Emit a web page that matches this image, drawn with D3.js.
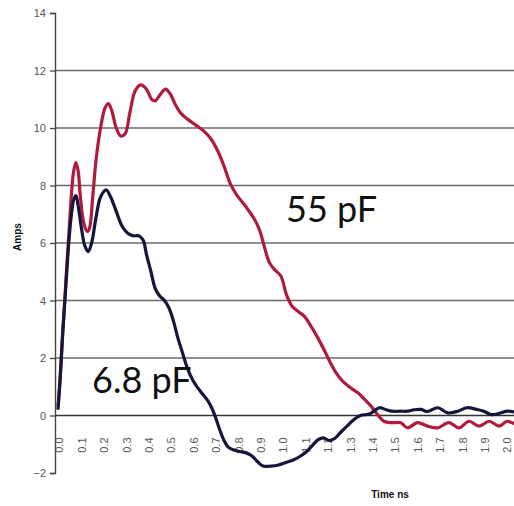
<!DOCTYPE html>
<html>
<head>
<meta charset="utf-8">
<script src="https://cdn.jsdelivr.net/npm/d3@7"></script>
<style>
  html, body { margin: 0; padding: 0; background: #fff; }
  svg { display: block; }
</style>
</head>
<body>
<svg id="chart" width="514" height="506"></svg>
<script>
// Discharge current through the probe, in amps, against time in ns
const yTicks = [-2, 0, 2, 4, 6, 8, 10, 12, 14];
const gridValues = [0, 2, 4, 6, 8, 10, 12];
const xTickLabels = ["0.0","0.1","0.2","0.3","0.4","0.5","0.6","0.7","0.8","0.9","1.0",
                     "1.1","1.2","1.3","1.4","1.5","1.6","1.7","1.8","1.9","2.0"];

// 55 pF discharge
const time55 = [0.000,0.010,0.020,0.030,0.040,0.050,0.060,0.070,0.080,0.090,0.100,0.115,0.130,0.140,
  0.155,0.170,0.190,0.210,0.225,0.240,0.260,0.280,0.300,0.320,0.345,0.370,0.395,0.420,0.435,0.455,
  0.480,0.500,0.525,0.550,0.580,0.615,0.650,0.680,0.710,0.740,0.770,0.800,0.840,0.875,0.900,0.920,
  0.945,0.970,0.995,1.020,1.045,1.075,1.100,1.130,1.160,1.190,1.215,1.240,1.270,1.300,1.340,1.370,
  1.400,1.430,1.455,1.490,1.530,1.560,1.605,1.650,1.695,1.745,1.790,1.835,1.880,1.925,1.970,2.005,2.040];
const amps55 = [0.3,1.4,2.8,4.0,5.3,6.5,7.7,8.5,8.8,8.5,7.6,6.7,6.4,6.5,
  7.6,8.9,10.0,10.7,10.85,10.6,10.0,9.72,9.8,10.5,11.3,11.5,11.35,10.98,10.95,11.15,
  11.35,11.2,10.8,10.5,10.3,10.1,9.9,9.65,9.25,8.7,8.05,7.65,7.25,6.85,6.45,5.9,
  5.3,5.05,4.85,4.2,3.8,3.6,3.45,3.1,2.7,2.25,1.85,1.5,1.2,1.0,0.78,0.55,
  0.3,0.0,-0.2,-0.25,-0.25,-0.43,-0.25,-0.37,-0.43,-0.25,-0.43,-0.2,-0.37,-0.2,-0.37,-0.2,-0.3];

// 6.8 pF discharge
const time68 = [0.000,0.010,0.020,0.030,0.040,0.050,0.060,0.070,0.080,0.090,0.105,0.120,0.135,0.150,
  0.170,0.190,0.215,0.235,0.260,0.285,0.310,0.335,0.360,0.380,0.395,0.415,0.435,0.455,0.475,0.495,
  0.515,0.535,0.555,0.575,0.600,0.625,0.650,0.670,0.690,0.705,0.720,0.740,0.760,0.785,0.810,0.840,
  0.865,0.890,0.915,0.950,0.985,1.015,1.050,1.085,1.110,1.135,1.160,1.185,1.210,1.235,1.260,1.290,
  1.320,1.350,1.390,1.410,1.435,1.465,1.490,1.530,1.560,1.590,1.620,1.650,1.695,1.740,1.785,1.825,
  1.870,1.900,1.935,1.960,2.005,2.040];
const amps68 = [0.2,1.3,2.7,3.9,5.1,6.2,7.0,7.5,7.65,7.3,6.5,5.9,5.7,6.0,
  6.9,7.6,7.85,7.6,7.1,6.6,6.35,6.25,6.25,6.1,5.6,5.0,4.4,4.15,4.0,3.75,
  3.3,2.7,2.2,1.7,1.25,0.95,0.7,0.5,0.2,-0.1,-0.45,-0.85,-1.1,-1.2,-1.25,-1.3,
  -1.4,-1.6,-1.76,-1.76,-1.72,-1.64,-1.55,-1.4,-1.25,-1.05,-0.85,-0.78,-0.87,-0.8,-0.6,-0.37,
  -0.15,0.0,0.05,0.15,0.27,0.2,0.15,0.15,0.15,0.2,0.21,0.14,0.27,0.09,0.15,0.27,
  0.21,0.15,0.03,0.05,0.15,0.12];

const seriesNames = ["55 pF", "6.8 pF"];
const yTitle = "Amps";
const xTitle = "Time ns";

const svg = d3.select("#chart");
const W = 514;

const x = d3.scaleLinear().domain([0, 2]).range([58, 506]);
const y = d3.scaleLinear().domain([-2, 14]).range([473, 13]);
const axisX = 55;

// horizontal gridlines
svg.append("g")
  .selectAll("line")
  .data(gridValues)
  .join("line")
  .attr("x1", axisX).attr("x2", W)
  .attr("y1", d => y(d)).attr("y2", d => y(d))
  .attr("stroke", d => d === 0 ? "#333" : "#6a6a6a")
  .attr("stroke-width", d => d === 0 ? 1.6 : 1.4);

// value axis
const yAxis = svg.append("g")
  .attr("transform", `translate(${axisX},0)`)
  .call(d3.axisLeft(y).tickValues(yTicks).tickSize(5).tickSizeOuter(5).tickPadding(4)
        .tickFormat(d3.format("d")));
yAxis.select(".domain").attr("stroke", "#444").attr("stroke-width", 1.4);
yAxis.selectAll(".tick line").attr("stroke", "#444").attr("stroke-width", 1.3);
yAxis.selectAll("text")
  .attr("font-family", "Liberation Sans, Arial, sans-serif")
  .attr("font-size", 11).attr("fill", "#555");

// time axis labels, rotated, hanging below the zero line
const xAxis = svg.append("g")
  .attr("transform", `translate(0,${y(0)})`)
  .call(d3.axisBottom(x).tickValues(xTickLabels.map(Number)).tickSize(0)
        .tickFormat((d, i) => xTickLabels[i]));
xAxis.select(".domain").remove();
xAxis.selectAll("text")
  .attr("font-family", "Liberation Sans, Arial, sans-serif")
  .attr("font-size", 11).attr("fill", "#555")
  .attr("text-anchor", "end")
  .attr("y", 0).attr("dy", "0.35em")
  .attr("transform", "translate(1,22) rotate(-90)");

// curves
const line = d3.line()
  .x(d => x(d[0])).y(d => y(d[1]))
  .curve(d3.curveCatmullRom.alpha(0.5));

svg.append("path")
  .datum(d3.zip(time55, amps55))
  .attr("fill", "none").attr("stroke", "#b01a3c")
  .attr("stroke-width", 3.2).attr("stroke-linejoin", "round")
  .attr("d", line);

svg.append("path")
  .datum(d3.zip(time68, amps68))
  .attr("fill", "none").attr("stroke", "#16163a")
  .attr("stroke-width", 3.2).attr("stroke-linejoin", "round")
  .attr("d", line);

// series annotations
svg.append("text")
  .attr("x", 286).attr("y", 222)
  .attr("font-family", "Lato, sans-serif").attr("font-size", 36).attr("fill", "#111")
  .text(seriesNames[0]);
svg.append("text")
  .attr("x", 92).attr("y", 393)
  .attr("font-family", "Lato, sans-serif").attr("font-size", 36).attr("fill", "#111")
  .text(seriesNames[1]);

// axis titles
svg.append("text")
  .attr("transform", "translate(21,237) rotate(-90)")
  .attr("text-anchor", "middle")
  .attr("font-family", "Liberation Sans, Arial, sans-serif")
  .attr("font-size", 10).attr("font-weight", "bold").attr("fill", "#111")
  .text(yTitle);
svg.append("text")
  .attr("x", 390).attr("y", 498)
  .attr("text-anchor", "middle")
  .attr("font-family", "Liberation Sans, Arial, sans-serif")
  .attr("font-size", 10).attr("font-weight", "bold").attr("fill", "#111")
  .text(xTitle);
</script>
</body>
</html>
